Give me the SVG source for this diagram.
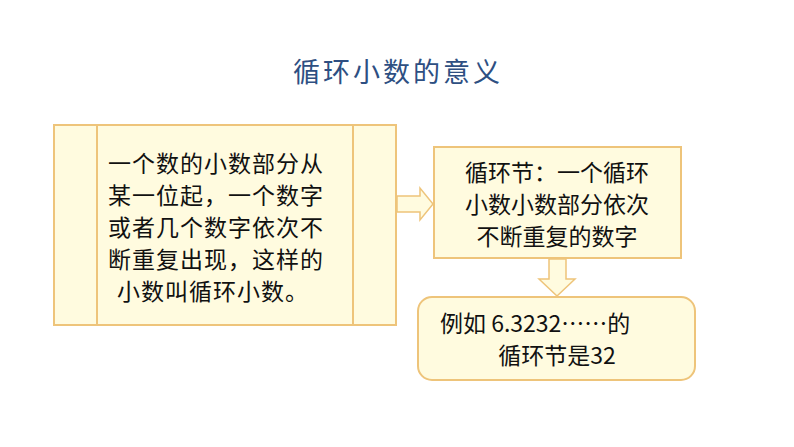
<svg xmlns="http://www.w3.org/2000/svg" width="794" height="447" viewBox="0 0 794 447">
<style>
.box{fill:#FFFBDF;stroke:#EEC47A;stroke-width:2}
.t{font-family:"Noto Sans CJK SC","Liberation Sans",sans-serif;font-size:23px;fill:#111}
.arr{fill:#FFFBDF;stroke:#EEC47A;stroke-width:1.5}
</style>
<rect width="794" height="447" fill="#fff"/>
<g id="title"><text x="398" y="82" text-anchor="middle" font-family="'Noto Sans CJK SC',sans-serif" font-size="27" fill="#2E4F82" letter-spacing="3">循环小数的意义</text></g>
<g id="def">
<rect class="box" x="54" y="125" width="342" height="200"/>
<line x1="97" y1="125" x2="97" y2="325" stroke="#EEC47A" stroke-width="2"/>
<line x1="353" y1="125" x2="353" y2="325" stroke="#EEC47A" stroke-width="2"/>
<text class="t" x="108" y="172" letter-spacing="1">一个数的小数部分从</text>
<text class="t" x="108" y="204" letter-spacing="1">某一位起，一个数字</text>
<text class="t" x="108" y="236" letter-spacing="1">或者几个数字依次不</text>
<text class="t" x="108" y="268" letter-spacing="1">断重复出现，这样的</text>
<text class="t" x="117" y="300" letter-spacing="1">小数叫循环小数。</text>
</g>
<g id="conn">
<polygon class="arr" points="397,196 420,196 420,188 433,204 420,220 420,212 397,212"/>
<polygon class="arr" points="549,259 566,259 566,279 575,279 557,296 539,279 549,279"/>
</g>
<g id="cycle">
<rect class="box" x="434" y="147" width="247" height="111"/>
<text class="t" x="557" y="181" text-anchor="middle">循环节：一个循环</text>
<text class="t" x="557" y="213" text-anchor="middle">小数小数部分依次</text>
<text class="t" x="557" y="245" text-anchor="middle">不断重复的数字</text>
</g>
<g id="example">
<rect class="box" x="418" y="297" width="277" height="83" rx="14"/>
<text class="t" x="440" y="332">例如  6.3232……的</text>
<text class="t" x="557" y="364" text-anchor="middle">循环节是32</text>
</g>
</svg>
